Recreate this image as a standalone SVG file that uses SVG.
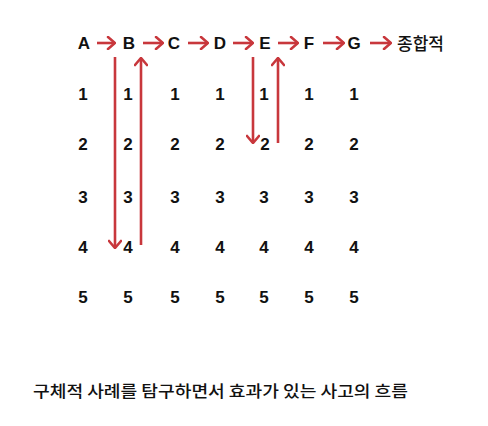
<svg xmlns="http://www.w3.org/2000/svg" width="488" height="426" viewBox="0 0 488 426">
<style>
.t{font-family:"Liberation Sans",Arial,sans-serif;font-weight:bold;font-size:17px;fill:#111;text-anchor:middle}
.k{font-family:"Noto Sans CJK KR",sans-serif;font-weight:500;fill:#111}
.a{stroke:#c8373c;stroke-width:2.6;fill:none}
</style>
<defs>
<marker id="h" markerUnits="userSpaceOnUse" viewBox="0 0 10 14" refX="9" refY="7" markerWidth="10" markerHeight="14" orient="auto">
<path d="M2,1 L9,7 L2,13" fill="none" stroke="#c8373c" stroke-width="2.6" stroke-linecap="round"/>
</marker>
</defs>
<rect width="488" height="426" fill="#fff"/>
<g id="header">
<text class="t" x="84" y="49">A</text>
<text class="t" x="129" y="49">B</text>
<text class="t" x="174" y="49">C</text>
<text class="t" x="220" y="49">D</text>
<text class="t" x="265" y="49">E</text>
<text class="t" x="309" y="49">F</text>
<text class="t" x="354" y="49">G</text>
<text class="k" x="397" y="50" font-size="17">종합적</text>
</g>
<g id="grid">
<g class="t">
<text x="83" y="100">1</text><text x="128" y="100">1</text><text x="175" y="100">1</text><text x="220" y="100">1</text><text x="264" y="100">1</text><text x="309" y="100">1</text><text x="354" y="100">1</text>
<text x="83" y="150">2</text><text x="128" y="150">2</text><text x="175" y="150">2</text><text x="220" y="150">2</text><text x="265" y="150">2</text><text x="309" y="150">2</text><text x="354" y="150">2</text>
<text x="83" y="203">3</text><text x="128" y="203">3</text><text x="175" y="203">3</text><text x="220" y="203">3</text><text x="264" y="203">3</text><text x="309" y="203">3</text><text x="354" y="203">3</text>
<text x="83" y="253">4</text><text x="128" y="253">4</text><text x="175" y="253">4</text><text x="220" y="253">4</text><text x="264" y="253">4</text><text x="309" y="253">4</text><text x="354" y="253">4</text>
<text x="83" y="303">5</text><text x="128" y="303">5</text><text x="175" y="303">5</text><text x="220" y="303">5</text><text x="264" y="303">5</text><text x="309" y="303">5</text><text x="354" y="303">5</text>
</g>
</g>
<g id="connectors">
<line class="a" x1="97" y1="43" x2="115" y2="43" marker-end="url(#h)"/>
<line class="a" x1="143" y1="43" x2="163" y2="43" marker-end="url(#h)"/>
<line class="a" x1="188" y1="43" x2="208" y2="43" marker-end="url(#h)"/>
<line class="a" x1="233" y1="43" x2="253" y2="43" marker-end="url(#h)"/>
<line class="a" x1="278" y1="43" x2="298" y2="43" marker-end="url(#h)"/>
<line class="a" x1="323" y1="43" x2="344" y2="43" marker-end="url(#h)"/>
<line class="a" x1="370" y1="43" x2="391" y2="43" marker-end="url(#h)"/>
<line class="a" x1="115" y1="57" x2="115" y2="248" marker-end="url(#h)"/>
<line class="a" x1="141" y1="245" x2="141" y2="58" marker-end="url(#h)"/>
<line class="a" x1="253" y1="57" x2="253" y2="143" marker-end="url(#h)"/>
<line class="a" x1="278" y1="143" x2="278" y2="58" marker-end="url(#h)"/>
</g>
<text id="caption" class="k" x="33" y="397" font-size="16" textLength="375" lengthAdjust="spacingAndGlyphs">구체적 사례를 탐구하면서 효과가 있는 사고의 흐름</text>
</svg>
